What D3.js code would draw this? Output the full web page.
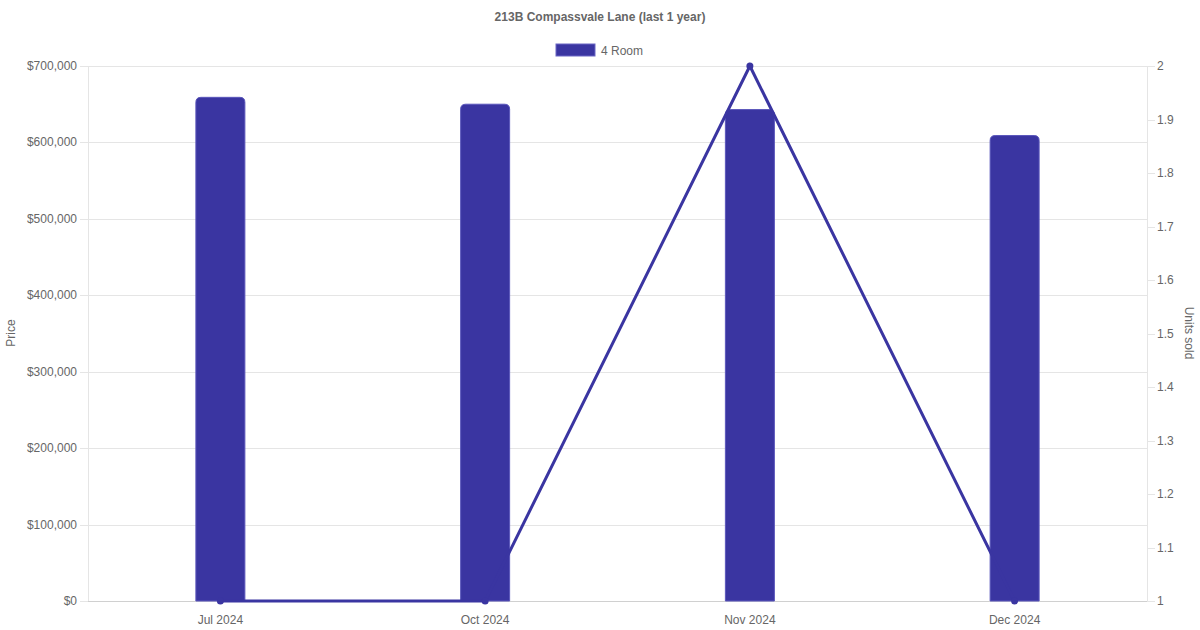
<!DOCTYPE html>
<html><head><meta charset="utf-8">
<script src="https://cdn.jsdelivr.net/npm/d3@7"></script>
<style>body{margin:0;background:#fff;} svg{display:block;font-family:"Liberation Sans",Arial,Helvetica,sans-serif;}</style>
</head><body>
<svg id="c" width="1200" height="630"></svg>
<script>
const categories = ["Jul 2024", "Oct 2024", "Nov 2024", "Dec 2024"];
const prices = [659000, 650000, 643000, 609000];
const unitsSold = [1, 1, 2, 1];
const priceTicks = [0, 100000, 200000, 300000, 400000, 500000, 600000, 700000];
const unitTicks = [1, 1.1, 1.2, 1.3, 1.4, 1.5, 1.6, 1.7, 1.8, 1.9, 2];
const title = "213B Compassvale Lane (last 1 year)";
const seriesName = "4 Room";

const color = "#3a35a1";
const svg = d3.select("#c");
const L = 88, R = 1147, T = 66, B = 601;

const x = d3.scaleBand().domain(categories).range([L, R]);
const yL = d3.scaleLinear().domain([0, 700000]).range([B, T]);
const yR = d3.scaleLinear().domain([1, 2]).range([B, T]);

// title
svg.append("text").attr("x", 600).attr("y", 21).attr("text-anchor", "middle")
  .attr("font-size", 12).attr("font-weight", "bold").attr("fill", "#666").text(title);
// legend
svg.append("rect").attr("x", 556).attr("y", 44).attr("width", 39).attr("height", 12)
  .attr("fill", color).attr("stroke", "#6b67c4").attr("stroke-width", 1);
svg.append("text").attr("x", 601).attr("y", 55).attr("font-size", 12).attr("fill", "#666").text(seriesName);

// gridlines
svg.append("g").selectAll("line").data(priceTicks).join("line")
  .attr("x1", L - 8).attr("x2", R).attr("y1", d => Math.round(yL(d)) + 0.5).attr("y2", d => Math.round(yL(d)) + 0.5)
  .attr("stroke", "#e5e5e5").attr("stroke-width", 1);
svg.append("g").selectAll("line").data(unitTicks).join("line")
  .attr("x1", R).attr("x2", R + 8).attr("y1", d => Math.round(yR(d)) + 0.5).attr("y2", d => Math.round(yR(d)) + 0.5)
  .attr("stroke", "#e5e5e5").attr("stroke-width", 1);
// axis lines
svg.append("line").attr("x1", L + 0.5).attr("x2", L + 0.5).attr("y1", T).attr("y2", B).attr("stroke", "#e5e5e5");
svg.append("line").attr("x1", R + 0.5).attr("x2", R + 0.5).attr("y1", T).attr("y2", B).attr("stroke", "#e5e5e5");
svg.append("line").attr("x1", L).attr("x2", R).attr("y1", B + 0.5).attr("y2", B + 0.5).attr("stroke", "#d0d0d0");

// tick labels
const fmt = d3.format("$,");
svg.append("g").selectAll("text").data(priceTicks).join("text")
  .attr("x", 77).attr("y", d => yL(d) + 4).attr("text-anchor", "end")
  .attr("font-size", 12).attr("fill", "#666").text(d => fmt(d));
svg.append("g").selectAll("text").data(unitTicks).join("text")
  .attr("x", 1157).attr("y", d => yR(d) + 4).attr("text-anchor", "start")
  .attr("font-size", 12).attr("fill", "#666").text(d => d3.format("~g")(d));
svg.append("g").selectAll("text").data(categories).join("text")
  .attr("x", d => x(d) + x.bandwidth() / 2).attr("y", 624).attr("text-anchor", "middle")
  .attr("font-size", 12).attr("fill", "#666").text(d => d);

// axis titles
svg.append("text").attr("transform", "translate(15,333) rotate(-90)").attr("text-anchor", "middle")
  .attr("font-size", 12).attr("fill", "#666").text("Price");
svg.append("text").attr("transform", "translate(1185,333) rotate(90)").attr("text-anchor", "middle")
  .attr("font-size", 12).attr("fill", "#666").text("Units sold");

// bars with rounded top
const bw = 49, r = 5;
function barPath(cx, yTop, yBot) {
  const x0 = cx - bw / 2, x1 = cx + bw / 2;
  return `M${x0},${yBot} L${x0},${yTop + r} Q${x0},${yTop} ${x0 + r},${yTop} L${x1 - r},${yTop} Q${x1},${yTop} ${x1},${yTop + r} L${x1},${yBot} Z`;
}
svg.append("g").selectAll("path").data(categories).join("path")
  .attr("d", (d, i) => barPath(x(d) + x.bandwidth() / 2, yL(prices[i]), yL(0)))
  .attr("fill", color).attr("stroke", "#5a56bb").attr("stroke-width", 1);

// line
const line = d3.line().x((d, i) => x(categories[i]) + x.bandwidth() / 2).y(d => yR(d));
svg.append("path").attr("d", line(unitsSold)).attr("fill", "none").attr("stroke", color).attr("stroke-width", 3)
  .attr("stroke-linejoin", "miter");
svg.append("g").selectAll("circle").data(unitsSold).join("circle")
  .attr("cx", (d, i) => x(categories[i]) + x.bandwidth() / 2).attr("cy", d => yR(d)).attr("r", 3.5)
  .attr("fill", color);
</script>
</body></html>
